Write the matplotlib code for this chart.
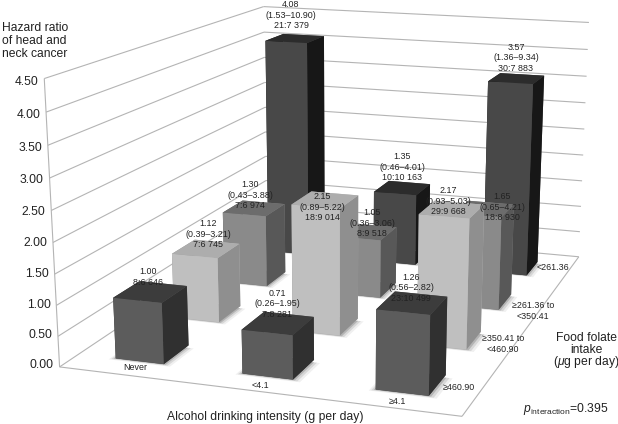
import numpy as np
import matplotlib
matplotlib.use("Agg")
import matplotlib.pyplot as plt
from mpl_toolkits.mplot3d.art3d import Poly3DCollection, Line3DCollection

W = 618
H = 424

# hazard ratios, columns are alcohol groups, rows go from back to front
alcohol = ["Never", "<4.1", "\u22654.1"]
folate = ["<261.36", "\u2265261.36 to\n<350.41", "\u2265350.41 to\n<460.90", "\u2265460.90"]
hr_row1 = [4.08, 1.35, 3.57]
hr_row2 = [1.30, 1.05, 1.65]
hr_row3 = [1.12, 2.15, 2.17]
hr_row4 = [1.00, 0.71, 1.26]
ci_row1 = ["(1.53\u201310.90)", "(0.46\u20134.01)", "(1.36\u20139.34)"]
ci_row2 = ["(0.43\u20133.88)", "(0.36\u20133.06)", "(0.65\u20134.21)"]
ci_row3 = ["(0.39\u20133.21)", "(0.89\u20135.22)", "(0.93\u20135.03)"]
ci_row4 = ["", "(0.26\u20131.95)", "(0.56\u20132.82)"]
n_row1 = ["21:7 379", "10:10 163", "30:7 883"]
n_row2 = ["7:6 974", "8:9 518", "18:8 930"]
n_row3 = ["7:6 745", "18:9 014", "29:9 668"]
n_row4 = ["8:6 646", "7:8 281", "23:10 499"]
yticks = [0.0, 0.5, 1.0, 1.5, 2.0, 2.5, 3.0, 3.5, 4.0, 4.5]

hr_rows = [hr_row1, hr_row2, hr_row3, hr_row4]
ci_rows = [ci_row1, ci_row2, ci_row3, ci_row4]
n_rows = [n_row1, n_row2, n_row3, n_row4]

# front, top, side colour of each row
row_colors = [("#484848", "#2c2c2c", "#171717"),
              ("#8a8a8a", "#6c6c6c", "#585858"),
              ("#bfbfbf", "#adadad", "#8f8f8f"),
              ("#5c5c5c", "#3c3c3c", "#303030")]

# where the box corners sit in the picture (x, y, z) -> pixel, used for the camera
box_pts = [(0, 0, 0), (3, 0, 0), (3, 4, 0), (0, 4, 0), (0, 0, 4.5), (3, 4, 4.5), (0, 4, 4.5)]
box_px = [(58, 364), (463, 418), (578, 255), (268, 231), (45, 80), (589, 23), (263, 5)]

# label spots in the picture, same order as the rows
label_px = [[(291, 15), (402, 167), (516, 58)],
            [(250, 195), (372, 223), (502, 207)],
            [(208, 234), (322, 207), (448, 201)],
            [(148, 277), (277, 304), (411, 288)]]
alcohol_px = [(135, 367), (260, 385), (397, 401)]
folate_px = [(553, 267), (533, 311), (503, 344), (459, 387)]

plt.rcParams["font.family"] = "Liberation Sans"
plt.rcParams["mathtext.fontset"] = "custom"
plt.rcParams["mathtext.rm"] = "Liberation Sans"
plt.rcParams["mathtext.it"] = "Liberation Sans:italic"

fig = plt.figure(figsize=(W / 100, H / 100), dpi=100)
side = W / H
ax = fig.add_axes([0, (1 - side) / 2, 1, side], projection="3d")
ax.set_axis_off()
ax.patch.set_alpha(0)
ax.computed_zorder = False


def my_proj():
    # camera fitted so that the box corners land on the wanted pixels
    ax.apply_aspect()
    inv = ax.transData.inverted()
    rows = []
    for p, px in zip(box_pts, box_px):
        u, v = inv.transform((px[0], H - px[1]))
        X = [p[0], p[1], p[2], 1]
        rows.append(X + [0, 0, 0, 0] + [-u * c for c in X])
        rows.append([0, 0, 0, 0] + X + [-v * c for c in X])
    P = np.linalg.svd(np.array(rows))[2][-1].reshape(3, 4)
    P = P / (P[2] @ np.array([1.5, 2, 0, 1]))
    return np.array([P[0], P[1], P[2] - np.array([0, 0, 0, 0.5]), P[2]])


ax.get_proj = my_proj

# walls and floor lines
segs = []
for v in yticks:
    segs.append([(0, 0, v), (0, 4, v)])
    segs.append([(0, 4, v), (3, 4, v)])
    # tick text sits a little under the line near the top of the axis
    ax.text(-0.045, 0, v * 0.983 + 0.015, "%.2f" % v, ha="right", va="center", fontsize=8.7,
            color="#222222", zorder=500)
segs.append([(0, 0, 0), (0, 0, 4.5)])
segs.append([(0, 0, 0), (3, 0, 0)])
segs.append([(3, 0, 0), (3, 4, 0)])
grid = Line3DCollection(segs, colors="#b4b4b4", linewidths=0.8, zorder=1)
ax.add_collection3d(grid)

bar_w = 0.385
bar_d = 0.43
z = 5
for r in range(4):
    y0 = 3 - r + 0.29
    for c in range(3):
        x0 = c + 0.30
        val = hr_rows[r][c]
        front, top, right = row_colors[r]
        # soft shadow on the floor
        for grow, a in [(0.05, 0.06), (0.032, 0.10), (0.015, 0.16)]:
            sx0, sx1 = x0 - grow * 0.8, x0 + bar_w + grow * 1.3
            sy0, sy1 = y0 - grow * 0.7, y0 + bar_d - 0.05
            shadow = Poly3DCollection([[(sx0, sy0, 0), (sx1, sy0, 0), (sx1, sy1, 0), (sx0, sy1, 0)]],
                                      facecolor=(0, 0, 0, a), edgecolor="none", zorder=z)
            ax.add_collection3d(shadow)
            z += 1
        ax.bar3d(x0, y0, 0, bar_w, bar_d, val, color=[top, top, front, front, right, right],
                 shade=False, edgecolor="none", zorder=z)
        z += 1


def px_text(x, y, s, **kw):
    fig.text(x / W, 1 - y / H, s, color="#222222", zorder=10, **kw)


for r in range(4):
    for c in range(3):
        lines = ["%.2f" % hr_rows[r][c]]
        if ci_rows[r][c] != "":
            lines.append(ci_rows[r][c])
        lines.append(n_rows[r][c])
        px_text(label_px[r][c][0], label_px[r][c][1], "\n".join(lines), ha="center", va="center",
                multialignment="center", fontsize=6.4, linespacing=1.2)

# category labels on the floor
for c in range(3):
    px_text(alcohol_px[c][0], alcohol_px[c][1], alcohol[c], ha="center", va="center", fontsize=6.4)
for r in range(4):
    px_text(folate_px[r][0], folate_px[r][1], folate[r], ha="center", va="center", fontsize=6.4,
            multialignment="center", linespacing=1.2)

px_text(2, 41, "Hazard ratio\nof head and\nneck cancer", fontsize=8.7, ha="left", va="center", linespacing=1.08)
px_text(167, 417, "Alcohol drinking intensity (g per day)", fontsize=8.7, ha="left", va="center")
px_text(586, 338, "Food folate", fontsize=8.7, ha="center", va="center")
px_text(586, 350, "intake", fontsize=8.7, ha="center", va="center")
px_text(586, 362, "($\\mu$g per day)", fontsize=8.7, ha="center", va="center")
px_text(523, 409, "$p_{\\mathrm{interaction}}$=0.395", fontsize=8.7, ha="left", va="center")

fig.savefig("out.png", dpi=100)
